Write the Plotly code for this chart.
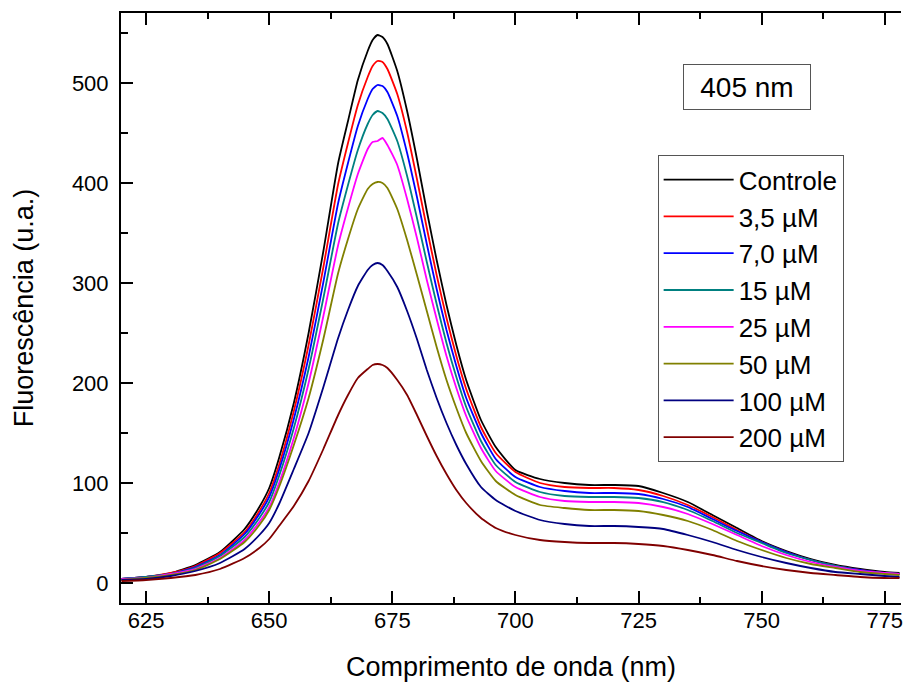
import plotly.graph_objects as go

# Emission wavelength grid (nm)
wavelength = [620, 625, 630, 635, 640, 645, 648, 650, 652, 655, 658, 661, 664,
              666, 668, 670, 671, 672, 673, 674, 676, 678, 680, 682, 684, 686,
              688, 690, 693, 696, 700, 705, 710, 715, 720, 725, 730, 735, 740,
              745, 750, 755, 760, 765, 770, 775, 778]

# Fluorescence intensity (a.u.) for each sample
controle = [4, 6, 10, 18, 31, 54, 76, 95, 125, 180, 250, 332, 420,
            462, 503, 532, 543, 548, 546, 539, 512, 472, 424, 372, 323, 278,
            238, 203, 163, 136, 113, 104, 100, 98, 98, 97, 90, 81, 68,
            55, 42, 32, 24, 18, 14, 11, 10]
c3_5 = [4, 6, 10, 17, 30, 51, 72, 90, 118, 172, 238, 316, 399,
        440, 478, 506, 517, 522, 521, 514, 489, 451, 404, 355, 308, 265,
        227, 194, 156, 130, 111, 100, 96, 95, 95, 93, 87, 78, 66,
        53, 41, 31, 23, 17, 13, 10, 9]
c7_0 = [4, 6, 9, 16, 28, 49, 69, 86, 113, 164, 226, 301, 380,
        420, 457, 484, 494, 498, 497, 491, 467, 430, 386, 339, 294, 253,
        217, 185, 150, 124, 106, 96, 92, 90, 90, 89, 84, 76, 64,
        52, 41, 31, 23, 17, 13, 10, 9]
c15 = [4, 6, 9, 15, 27, 46, 65, 81, 107, 155, 214, 285, 360,
       398, 433, 459, 468, 472, 470, 464, 442, 407, 365, 321, 279, 240,
       206, 176, 142, 118, 101, 91, 87, 86, 86, 85, 81, 73, 62,
       50, 40, 30, 23, 17, 12, 10, 9]
c25 = [4, 5, 9, 14, 25, 43, 61, 76, 100, 145, 200, 267, 338,
       375, 409, 434, 441, 442, 445, 438, 418, 384, 345, 303, 264, 227,
       195, 167, 135, 112, 96, 86, 82, 81, 81, 80, 76, 69, 59,
       48, 37, 28, 21, 16, 12, 10, 9]
c50 = [3, 5, 8, 13, 24, 41, 58, 73, 96, 138, 185, 244, 310,
       344, 374, 394, 399, 401, 400, 395, 374, 343, 308, 272, 236, 203,
       175, 150, 122, 102, 88, 78, 75, 73, 73, 72, 68, 62, 53,
       42, 33, 25, 19, 15, 11, 9, 8]
c100 = [3, 4, 7, 12, 20, 34, 48, 60, 79, 114, 150, 196, 245,
        273, 297, 313, 318, 320, 318, 312, 296, 272, 244, 213, 185, 160,
        138, 119, 96, 83, 72, 63, 59, 57, 57, 56, 54, 48, 41,
        33, 26, 20, 15, 11, 9, 7, 6]
c200 = [2, 3, 5, 8, 14, 25, 35, 44, 57, 77, 102, 134, 168,
        188, 205, 214, 218, 219, 218, 215, 203, 188, 168, 147, 127, 109,
        93, 80, 65, 55, 48, 43, 41, 40, 40, 39, 37, 33, 28,
        22, 17, 13, 10, 8, 6, 5, 5]

series_names = ["Controle", "3,5 µM", "7,0 µM", "15 µM", "25 µM",
                "50 µM", "100 µM", "200 µM"]
series_values = [controle, c3_5, c7_0, c15, c25, c50, c100, c200]
series_colors = ["#000000", "#FF0000", "#0000FF", "#008080", "#FF00FF",
                 "#808000", "#000080", "#800000"]

x_ticks = [625, 650, 675, 700, 725, 750, 775]
y_ticks = [0, 100, 200, 300, 400, 500]

FONT = "Arial, Liberation Sans, sans-serif"

fig = go.Figure()
for name, vals, color in zip(series_names, series_values, series_colors):
    fig.add_trace(go.Scatter(
        x=wavelength, y=vals, mode="lines", name=name,
        line=dict(color=color, width=1.8, shape="spline", smoothing=0.5),
    ))

axis_common = dict(
    showgrid=False, zeroline=False,
    showline=True, linecolor="black", linewidth=2,
    ticks="inside", ticklen=12, tickwidth=2, tickcolor="black",
    tickfont=dict(family=FONT, size=22, color="black"),
)

fig.update_layout(
    width=903, height=682,
    margin=dict(l=121, r=0, t=13, b=79),
    paper_bgcolor="white", plot_bgcolor="white",
    font=dict(family=FONT, color="black"),
    xaxis=dict(
        **axis_common,
        range=[619.9, 778.3],
        tickvals=x_ticks,
        mirror="ticks",
        ticklabeloverflow="allow",
        minor=dict(ticks="inside", ticklen=6, tickwidth=2, tickcolor="black",
                   tick0=612.5, dtick=25),
        ticklabelstandoff=-3,
        title=dict(text="Comprimento de onda (nm)",
                   font=dict(family=FONT, size=27, color="black"),
                   standoff=26),
    ),
    yaxis=dict(
        **axis_common,
        range=[-20, 570],
        tickvals=y_ticks,
        minor=dict(ticks="inside", ticklen=7, tickwidth=2, tickcolor="black",
                   tick0=50, dtick=100),
        ticklabelstandoff=6,
        title=dict(text="Fluorescência (u.a.)",
                   font=dict(family=FONT, size=27, color="black"),
                   standoff=30),
    ),
    legend=dict(
        x=0.688, y=0.759, xanchor="left", yanchor="top",
        bgcolor="white", bordercolor="#555555", borderwidth=1,
        font=dict(family=FONT, size=26, color="black"),
        itemwidth=70, tracegroupgap=0,
    ),
    annotations=[dict(
        text="405 nm", xref="paper", yref="paper",
        x=0.803, y=0.875, xanchor="center", yanchor="middle",
        showarrow=False,
        font=dict(family=FONT, size=28, color="black"),
        bordercolor="#555555", borderwidth=1, borderpad=0,
        width=126, height=44, bgcolor="white",
    )],
)

fig.write_html("out.html")
